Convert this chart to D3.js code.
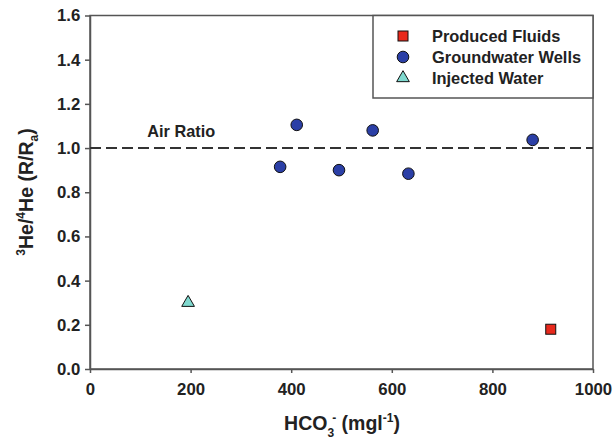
<!DOCTYPE html>
<html><head><meta charset="utf-8">
<script src="https://cdn.jsdelivr.net/npm/d3@7"></script>
<style>body{margin:0;background:#fff}svg{display:block;font-family:"Liberation Sans",Arial,sans-serif}</style>
</head><body><svg id="c" width="614" height="445"></svg>
<script>
const produced = [{x:916, y:0.18}];
const groundwater = [
  {x:378, y:0.915},{x:411, y:1.105},{x:495, y:0.90},
  {x:562, y:1.08},{x:633, y:0.884},{x:880, y:1.037}];
const injected = [{x:195, y:0.30}];
const xTicks = [0,200,400,600,800,1000];
const yTicks = [0,0.2,0.4,0.6,0.8,1.0,1.2,1.4,1.6];
const airRatio = 1.0;
const legendLabels = ["Produced Fluids","Groundwater Wells","Injected Water"];

const svg = d3.select("#c");
const L=90,R=593,T=15.5,B=369;
const x = d3.scaleLinear().domain([0,1000]).range([L,R]);
const y = d3.scaleLinear().domain([0,1.6]).range([B,T]);
const axisCol="#555";

svg.append("rect").attr("x",L).attr("y",T).attr("width",R-L).attr("height",B-T)
  .attr("fill","none").attr("stroke",axisCol).attr("stroke-width",1.5);

const xa = svg.append("g").attr("transform",`translate(0,${B})`)
  .call(d3.axisBottom(x).tickValues(xTicks).tickFormat(d3.format("d")).tickSize(4).tickSizeOuter(0));
const ya = svg.append("g").attr("transform",`translate(${L},0)`)
  .call(d3.axisLeft(y).tickValues(yTicks).tickFormat(d3.format(".1f")).tickSize(5).tickSizeOuter(0));
[xa,ya].forEach(a=>{
  a.select(".domain").attr("stroke",axisCol).attr("stroke-width",1.5);
  a.selectAll(".tick line").attr("stroke",axisCol).attr("stroke-width",1.5);
  a.selectAll(".tick text").attr("fill","#222").attr("font-size",16.8).attr("font-weight","bold")
   .attr("font-family","Liberation Sans, Arial, sans-serif");
});
xa.selectAll(".tick text").attr("dy","1.13em");
ya.selectAll(".tick text").attr("dx","-0.1em");

svg.append("line").attr("x1",L).attr("x2",R).attr("y1",y(airRatio)).attr("y2",y(airRatio))
  .attr("stroke","#333").attr("stroke-width",2).attr("stroke-dasharray","11,5");
svg.append("text").attr("x",x(114)).attr("y",y(airRatio)-11).text("Air Ratio")
  .attr("font-size",16.3).attr("font-weight","bold").attr("fill","#222");

svg.selectAll(".gw").data(groundwater).join("circle").attr("cx",d=>x(d.x)).attr("cy",d=>y(d.y))
  .attr("r",5.8).attr("fill","#2b3fa6").attr("stroke","#111").attr("stroke-width",1);
svg.selectAll(".pf").data(produced).join("rect").attr("x",d=>x(d.x)-5).attr("y",d=>y(d.y)-5)
  .attr("width",10).attr("height",10).attr("fill","#e8291c").attr("stroke","#111").attr("stroke-width",1);
const tri = d3.symbol().type(d3.symbolTriangle).size(70);
svg.selectAll(".iw").data(injected).join("path").attr("d",tri)
  .attr("transform",d=>`translate(${x(d.x)},${y(d.y)})`)
  .attr("fill","#7fd9cf").attr("stroke","#111").attr("stroke-width",1);

const lg = svg.append("g");
lg.append("rect").attr("x",373).attr("y",T).attr("width",R-373).attr("height",82.5)
  .attr("fill","#fff").attr("stroke",axisCol).attr("stroke-width",1.5);
const rows=[36,57,78];
lg.append("rect").attr("x",403-5).attr("y",rows[0]-5).attr("width",10).attr("height",10)
  .attr("fill","#e8291c").attr("stroke","#111");
lg.append("circle").attr("cx",403).attr("cy",rows[1]).attr("r",5.8).attr("fill","#2b3fa6").attr("stroke","#111");
lg.append("path").attr("d",tri).attr("transform",`translate(403,${rows[2]})`).attr("fill","#7fd9cf").attr("stroke","#111");
legendLabels.forEach((t,i)=>lg.append("text").attr("x",432).attr("y",rows[i]+5.5).text(t)
  .attr("font-size",16.4).attr("font-weight","bold").attr("fill","#222"));

const xt = svg.append("text").attr("x",342).attr("y",430).attr("text-anchor","middle")
  .attr("font-size",19.5).attr("font-weight","bold").attr("fill","#222");
xt.append("tspan").text("HCO");
xt.append("tspan").text("3").attr("font-size",12).attr("dy",7);
xt.append("tspan").text("-").attr("font-size",12).attr("dy",-15).attr("dx",-2);
xt.append("tspan").text(" (mgl").attr("dy",8);
xt.append("tspan").text("-1").attr("font-size",12).attr("dy",-8);
xt.append("tspan").text(")").attr("dy",8);

const yt = svg.append("text").attr("transform",`translate(33,192) rotate(-90)`).attr("text-anchor","middle")
  .attr("font-size",19.5).attr("font-weight","bold").attr("fill","#222");
yt.append("tspan").text("3").attr("font-size",12).attr("dy",-8);
yt.append("tspan").text("He/").attr("dy",8);
yt.append("tspan").text("4").attr("font-size",12).attr("dy",-8);
yt.append("tspan").text("He (R/R").attr("dy",8);
yt.append("tspan").text("a").attr("font-size",12).attr("dy",5);
yt.append("tspan").text(")").attr("dy",-5);
</script></body></html>
